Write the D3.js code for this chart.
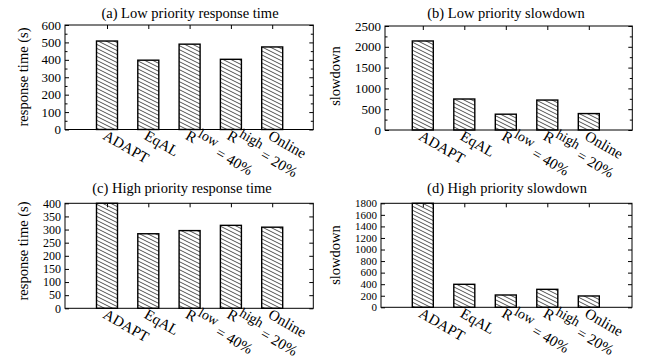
<!DOCTYPE html>
<html>
<head>
<meta charset="utf-8">
<script src="https://cdn.jsdelivr.net/npm/d3@7/dist/d3.min.js"></script>
<style>
  body { margin: 0; background: #fff; }
  svg text { font-family: "Liberation Serif", "Times New Roman", Times, "DejaVu Serif", serif; fill: #000; }
</style>
</head>
<body>
<div class="board"></div>
<script>
// data
var categories = ['ADAPT', 'EqAL', 'R^{low} = 40%', 'R^{high} = 20%', 'Online'];
var lowResponse = [508, 398, 490, 403, 474];
var lowSlowdown = [2140, 745, 380, 720, 395];
var highResponse = [400, 284, 296, 316, 309];
var highSlowdown = [1800, 398, 213, 311, 196];

var ticksA = [0, 100, 200, 300, 400, 500, 600];
var ticksB = [0, 500, 1000, 1500, 2000, 2500];
var ticksC = [0, 50, 100, 150, 200, 250, 300, 350, 400];
var ticksD = [0, 200, 400, 600, 800, 1000, 1200, 1400, 1600, 1800];

var titles = ['(a) Low priority response time', '(b) Low priority slowdown',
              '(c) High priority response time', '(d) High priority slowdown'];
var yLabels = ['response time (s)', 'slowdown', 'response time (s)', 'slowdown'];

// panel layout
var panels = [
  { values: lowResponse, ticks: ticksA, minor: true, fs: 13, l: 65, r: 313.3, t: 25, b: 129.5, c0: 107, c1: 272.2, tx: 190, ty: 18, lx: 23, ly: 77 },
  { values: lowSlowdown, ticks: ticksB, minor: true, fs: 13, l: 385, r: 632.3, t: 26, b: 130, c0: 422.8, c1: 588.8, tx: 506, ty: 18, lx: 335, ly: 76 },
  { values: highResponse, ticks: ticksC, minor: false, fs: 12, l: 65, r: 313.3, t: 203.3, b: 308.3, c0: 107, c1: 272.2, tx: 182, ty: 193, lx: 23, ly: 251 },
  { values: highSlowdown, ticks: ticksD, minor: false, fs: 11, l: 381, r: 632, t: 203.3, b: 307.3, c0: 422.8, c1: 588.8, tx: 507, ty: 193, lx: 335, ly: 255 }
];

var serif = '"Liberation Serif", "Times New Roman", Times, "DejaVu Serif", serif';

var svg = d3.select('.board').append('svg')
  .attr('width', 646)
  .attr('height', 358)
  .attr('font-family', serif);

// hatch pattern
var defs = svg.append('defs');
defs.append('pattern')
  .attr('id', 'hatch')
  .attr('patternUnits', 'userSpaceOnUse')
  .attr('width', 8)
  .attr('height', 4)
  .append('path')
  .attr('d', 'M-2,-1 L10,5 M-2,3 L2,5 M6,-1 L10,1')
  .attr('stroke', '#222')
  .attr('stroke-width', 0.8)
  .attr('fill', 'none');

panels.forEach(function(p, i) {
  var g = svg.append('g');
  var yMax = p.ticks[p.ticks.length - 1];
  var y = d3.scaleLinear().domain([0, yMax]).range([p.b, p.t]);
  var x = d3.scalePoint().domain(categories).range([p.c0, p.c1]);
  var barW = 21;

  // frame
  g.append('rect')
    .attr('x', p.l).attr('y', p.t)
    .attr('width', p.r - p.l).attr('height', p.b - p.t)
    .attr('fill', 'none').attr('stroke', '#000').attr('stroke-width', 1);

  // y ticks, left and mirrored right
  var step = p.ticks[1] - p.ticks[0];
  var minorTicks = p.minor ? p.ticks.slice(0, -1).map(function(t) { return t + step / 2; }) : [];
  g.append('g')
    .attr('transform', 'translate(' + p.l + ',0)')
    .call(d3.axisRight(y).tickValues(p.ticks).tickSize(4).tickFormat(''))
    .call(function(a) { a.select('.domain').remove(); });
  g.append('g')
    .attr('transform', 'translate(' + p.r + ',0)')
    .call(d3.axisLeft(y).tickValues(p.ticks).tickSize(4).tickFormat(''))
    .call(function(a) { a.select('.domain').remove(); });
  if (minorTicks.length) {
    g.append('g')
      .attr('transform', 'translate(' + p.l + ',0)')
      .call(d3.axisRight(y).tickValues(minorTicks).tickSize(2.5).tickFormat(''))
      .call(function(a) { a.select('.domain').remove(); });
    g.append('g')
      .attr('transform', 'translate(' + p.r + ',0)')
      .call(d3.axisLeft(y).tickValues(minorTicks).tickSize(2.5).tickFormat(''))
      .call(function(a) { a.select('.domain').remove(); });
  }

  // y tick labels
  g.selectAll('.ylab')
    .data(p.ticks)
    .enter()
    .append('text')
    .attr('x', p.l - 4)
    .attr('y', function(d) { return y(d); })
    .attr('dy', '0.35em')
    .attr('text-anchor', 'end')
    .style('font-size', p.fs + 'px')
    .text(function(d) { return d; });

  // x ticks top (mirrored)
  g.append('g')
    .attr('transform', 'translate(0,' + p.t + ')')
    .call(d3.axisBottom(x).tickSize(4).tickFormat(''))
    .call(function(a) { a.select('.domain').remove(); });

  // bars
  g.selectAll('.bar')
    .data(p.values)
    .enter()
    .append('rect')
    .attr('x', function(d, j) { return x(categories[j]) - barW / 2; })
    .attr('y', function(d) { return y(Math.min(d, yMax)); })
    .attr('width', barW)
    .attr('height', function(d) { return p.b - y(Math.min(d, yMax)); })
    .attr('fill', 'url(#hatch)')
    .attr('stroke', '#000')
    .attr('stroke-width', 1.4);

  // x labels, rotated
  categories.forEach(function(c) {
    var t = g.append('text')
      .attr('transform', 'translate(' + (x(c) - 5) + ',' + (p.b + 9) + ') rotate(30)')
      .style('font-size', '15px');
    var m = c.match(/^(.*)\^\{(.*)\}(.*)$/);
    if (m) {
      t.append('tspan').text(m[1]);
      t.append('tspan').attr('dy', -8).style('font-size', '14px').text(m[2]);
      t.append('tspan').attr('dy', 8).text(m[3]);
    } else {
      t.text(c);
    }
  });

  // title
  g.append('text')
    .attr('x', p.tx).attr('y', p.ty)
    .attr('text-anchor', 'middle')
    .style('font-size', '14.5px')
    .text(titles[i]);

  // y label
  g.append('text')
    .attr('transform', 'translate(' + p.lx + ',' + p.ly + ') rotate(-90)')
    .attr('text-anchor', 'middle')
    .attr('dy', '0.35em')
    .style('font-size', '14.5px')
    .text(yLabels[i]);
});
</script>
</body>
</html>
